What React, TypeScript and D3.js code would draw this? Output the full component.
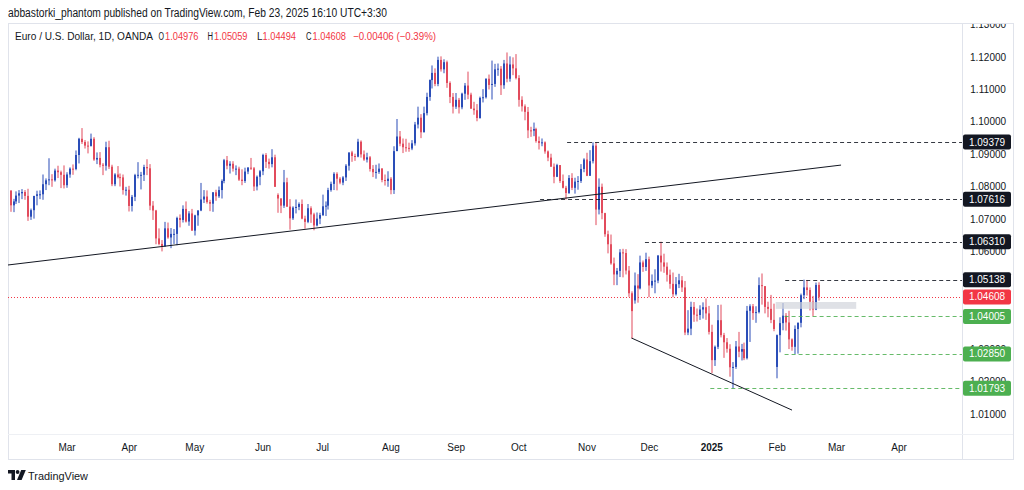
import React from 'react';
import * as d3 from 'd3';

// EUR/USD daily candles, [open, high, low, close]
const feb24 = [
  [1.0788, 1.079, 1.0723, 1.0743], [1.0743, 1.0763, 1.0722, 1.0755], [1.0755, 1.0786, 1.0747, 1.0773],
  [1.0773, 1.079, 1.075, 1.078], [1.078, 1.0793, 1.0762, 1.0784], [1.0784, 1.079, 1.076, 1.0772],
  [1.0772, 1.0794, 1.0695, 1.0708], [1.0708, 1.0733, 1.0698, 1.0728], [1.0728, 1.0772, 1.0702, 1.0772],
  [1.0772, 1.0788, 1.0743, 1.0777], [1.0777, 1.0789, 1.0762, 1.0777], [1.0777, 1.0838, 1.076, 1.0808],
  [1.0808, 1.0826, 1.079, 1.082], [1.082, 1.0888, 1.0805, 1.0823], [1.0823, 1.0839, 1.08, 1.082],
  [1.082, 1.0856, 1.0816, 1.085], [1.085, 1.0865, 1.0827, 1.0845], [1.0845, 1.085, 1.0796, 1.0837],
  [1.0837, 1.0866, 1.0795, 1.0805],
];
const mar24 = [
  [1.0805, 1.0845, 1.0797, 1.0838], [1.0838, 1.086, 1.0828, 1.0856], [1.0856, 1.0869, 1.0837, 1.0855],
  [1.0855, 1.0912, 1.0851, 1.0898], [1.0898, 1.0951, 1.0872, 1.0948], [1.0948, 1.0981, 1.0932, 1.0938],
  [1.0938, 1.0944, 1.0918, 1.0927], [1.0927, 1.094, 1.0903, 1.0926], [1.0926, 1.0964, 1.0924, 1.0948],
  [1.0948, 1.0953, 1.088, 1.0884], [1.0884, 1.0906, 1.087, 1.0889], [1.0889, 1.0907, 1.086, 1.0868],
  [1.0868, 1.0873, 1.0836, 1.0865], [1.0865, 1.0939, 1.085, 1.0922], [1.0922, 1.0942, 1.0855, 1.0862],
  [1.0862, 1.0868, 1.0802, 1.0808], [1.0808, 1.0842, 1.0802, 1.0838], [1.0838, 1.0864, 1.0826, 1.083],
  [1.083, 1.0841, 1.0801, 1.0829], [1.0829, 1.0838, 1.0776, 1.079], [1.079, 1.08, 1.0773, 1.0791],
];
const apr24 = [
  [1.0791, 1.0803, 1.0724, 1.0741], [1.0741, 1.0775, 1.0724, 1.0769], [1.0769, 1.084, 1.0756, 1.0836],
  [1.0836, 1.0876, 1.0826, 1.0837], [1.0837, 1.0846, 1.0792, 1.0837], [1.0837, 1.0868, 1.0818, 1.0861],
  [1.0861, 1.0885, 1.0836, 1.0857], [1.0857, 1.087, 1.0728, 1.0742], [1.0742, 1.0756, 1.0698, 1.0727],
  [1.0727, 1.0729, 1.0623, 1.0641], [1.0641, 1.0672, 1.062, 1.0624], [1.0624, 1.0636, 1.0601, 1.0617],
  [1.0617, 1.0692, 1.0615, 1.0672], [1.0672, 1.069, 1.064, 1.0644], [1.0644, 1.0673, 1.0611, 1.0655],
  [1.0655, 1.067, 1.0624, 1.0655], [1.0655, 1.0708, 1.062, 1.0704], [1.0704, 1.0715, 1.0675, 1.0698],
  [1.0698, 1.0743, 1.069, 1.0732], [1.0732, 1.0755, 1.069, 1.0693], [1.0693, 1.0725, 1.068, 1.0718],
  [1.0718, 1.0732, 1.0665, 1.0665],
];
const may24 = [
  [1.0665, 1.0714, 1.065, 1.0712], [1.0712, 1.0728, 1.068, 1.0727], [1.0727, 1.0812, 1.0725, 1.0761],
  [1.0761, 1.079, 1.075, 1.077], [1.077, 1.0789, 1.0748, 1.0753], [1.0753, 1.076, 1.0725, 1.0748],
  [1.0748, 1.0784, 1.0723, 1.0783], [1.0783, 1.0791, 1.0757, 1.0771], [1.0771, 1.0801, 1.0766, 1.079],
  [1.079, 1.0823, 1.0764, 1.0818], [1.0818, 1.0886, 1.0811, 1.0882], [1.0882, 1.0895, 1.0854, 1.0865],
  [1.0865, 1.0879, 1.0841, 1.0871], [1.0871, 1.0879, 1.0847, 1.0856], [1.0856, 1.0866, 1.0836, 1.0856],
  [1.0856, 1.0862, 1.0818, 1.0822], [1.0822, 1.0854, 1.0805, 1.0818], [1.0818, 1.0859, 1.0812, 1.0847],
  [1.0847, 1.0861, 1.0839, 1.0859], [1.0859, 1.0889, 1.0852, 1.0857], [1.0857, 1.0861, 1.0787, 1.0801],
  [1.0801, 1.0835, 1.0789, 1.0831], [1.0831, 1.0852, 1.0805, 1.0848],
];
const jun24 = [
  [1.0848, 1.0902, 1.0836, 1.0898], [1.0898, 1.0904, 1.0858, 1.0877], [1.0877, 1.0887, 1.0856, 1.087],
  [1.087, 1.0916, 1.086, 1.0891], [1.0891, 1.0899, 1.08, 1.08], [1.0775, 1.078, 1.072, 1.0764],
  [1.0764, 1.0765, 1.0719, 1.0742], [1.0742, 1.0852, 1.0735, 1.0814], [1.0814, 1.0828, 1.0738, 1.0739],
  [1.0739, 1.0762, 1.0668, 1.0703], [1.0703, 1.074, 1.0698, 1.0736], [1.0736, 1.0761, 1.0718, 1.0738],
  [1.0738, 1.0752, 1.0728, 1.0747], [1.0747, 1.0761, 1.07, 1.0702], [1.0702, 1.0711, 1.0671, 1.0692],
  [1.0692, 1.0747, 1.0688, 1.0734], [1.0734, 1.074, 1.0689, 1.0715], [1.0715, 1.072, 1.0666, 1.0681],
  [1.0681, 1.0721, 1.0678, 1.0702], [1.0702, 1.072, 1.0685, 1.0713],
];
const jul24 = [
  [1.0713, 1.0776, 1.071, 1.074], [1.074, 1.0755, 1.071, 1.0742], [1.0742, 1.0797, 1.073, 1.079],
  [1.079, 1.0816, 1.0785, 1.0809], [1.0809, 1.0845, 1.079, 1.084], [1.084, 1.0845, 1.0789, 1.0825],
  [1.0825, 1.083, 1.0808, 1.0813], [1.0813, 1.0833, 1.0805, 1.0829], [1.0829, 1.087, 1.0818, 1.0865],
  [1.0865, 1.0905, 1.085, 1.0906], [1.0906, 1.0911, 1.0877, 1.0895], [1.0895, 1.0902, 1.088, 1.0893],
  [1.0893, 1.0948, 1.0891, 1.0939], [1.0939, 1.0943, 1.089, 1.09], [1.09, 1.0912, 1.088, 1.0884],
  [1.0884, 1.0905, 1.0875, 1.0891], [1.0891, 1.0895, 1.0847, 1.0855], [1.0855, 1.0867, 1.083, 1.0845],
  [1.0845, 1.0868, 1.0825, 1.0846], [1.0846, 1.0872, 1.084, 1.0856], [1.0856, 1.0858, 1.0814, 1.0821],
  [1.0821, 1.0838, 1.0804, 1.0818], [1.0818, 1.0848, 1.08, 1.0825],
];
const aug24 = [
  [1.0825, 1.083, 1.0777, 1.079], [1.079, 1.0925, 1.0778, 1.091], [1.091, 1.1009, 1.091, 1.0955],
  [1.0955, 1.0972, 1.0925, 1.0933], [1.0933, 1.0949, 1.0904, 1.0922], [1.0922, 1.0948, 1.0908, 1.092],
  [1.092, 1.0936, 1.0908, 1.0918], [1.0918, 1.0944, 1.0913, 1.0934], [1.0934, 1.1, 1.0927, 1.0992],
  [1.0992, 1.1047, 1.098, 1.1013], [1.1013, 1.1024, 1.095, 1.0968], [1.0968, 1.1047, 1.0968, 1.1027],
  [1.1027, 1.109, 1.102, 1.1077], [1.1077, 1.1131, 1.1065, 1.1129], [1.1129, 1.1174, 1.1103, 1.1151],
  [1.1151, 1.1165, 1.111, 1.1117], [1.1117, 1.1201, 1.111, 1.1191], [1.1191, 1.1202, 1.1155, 1.1162],
  [1.1162, 1.1193, 1.115, 1.1184], [1.1184, 1.1189, 1.1105, 1.112], [1.112, 1.1125, 1.1058, 1.1077],
  [1.1077, 1.1089, 1.1026, 1.1047],
];
const sep24 = [
  [1.1047, 1.1089, 1.104, 1.1068], [1.1068, 1.1074, 1.1026, 1.1045], [1.1045, 1.109, 1.1039, 1.1087],
  [1.1087, 1.112, 1.1068, 1.1112], [1.1112, 1.1155, 1.107, 1.1084], [1.1084, 1.109, 1.104, 1.1041],
  [1.1041, 1.1062, 1.1022, 1.1036], [1.1036, 1.1055, 1.1002, 1.1012], [1.1012, 1.1078, 1.101, 1.1074],
  [1.1074, 1.1101, 1.106, 1.1076], [1.1076, 1.1134, 1.1072, 1.1133], [1.1133, 1.1146, 1.11, 1.1114],
  [1.1114, 1.1189, 1.1069, 1.1117], [1.1117, 1.1179, 1.1108, 1.1162], [1.1162, 1.118, 1.1142, 1.1164],
  [1.1164, 1.1172, 1.1083, 1.1113], [1.1113, 1.1191, 1.1102, 1.118], [1.118, 1.1214, 1.1122, 1.1133],
  [1.1133, 1.1202, 1.1124, 1.1177], [1.1177, 1.1199, 1.1144, 1.1165], [1.1165, 1.1209, 1.1131, 1.1135],
];
const oct24 = [
  [1.1135, 1.1144, 1.1047, 1.1068], [1.1068, 1.1079, 1.1032, 1.1048], [1.1048, 1.1054, 1.1005, 1.1031],
  [1.1031, 1.1046, 1.095, 1.0974], [1.0974, 1.0985, 1.0954, 1.0973], [1.0973, 1.0998, 1.0956, 1.0978],
  [1.0978, 1.0982, 1.0936, 1.0941], [1.0941, 1.0955, 1.0915, 1.0935], [1.0935, 1.0949, 1.0925, 1.0937],
  [1.0937, 1.094, 1.0902, 1.0909], [1.0909, 1.0912, 1.0879, 1.089], [1.089, 1.0902, 1.0862, 1.0862],
  [1.0862, 1.0872, 1.0811, 1.0831], [1.0831, 1.0871, 1.083, 1.0867], [1.0867, 1.0867, 1.0812, 1.0818],
  [1.0818, 1.0838, 1.0795, 1.0797], [1.0797, 1.0803, 1.0761, 1.0781], [1.0781, 1.0836, 1.0778, 1.0827],
  [1.0827, 1.0842, 1.079, 1.0797], [1.0797, 1.0828, 1.0779, 1.0816], [1.0816, 1.0833, 1.0791, 1.0818],
  [1.0818, 1.087, 1.0812, 1.0855], [1.0855, 1.0888, 1.0845, 1.0884],
];
const nov24 = [
  [1.0884, 1.0905, 1.0833, 1.0834], [1.0834, 1.0913, 1.0834, 1.0879], [1.0879, 1.0937, 1.0872, 1.0927],
  [1.0927, 1.0937, 1.0682, 1.073], [1.073, 1.0826, 1.0715, 1.08], [1.08, 1.081, 1.07, 1.0719],
  [1.0719, 1.072, 1.0646, 1.0654], [1.0654, 1.0665, 1.0595, 1.0623], [1.0623, 1.0653, 1.056, 1.0564],
  [1.0564, 1.0582, 1.0497, 1.053], [1.053, 1.055, 1.0497, 1.0541], [1.0541, 1.0608, 1.0522, 1.0598],
  [1.0598, 1.0609, 1.0521, 1.0596], [1.0596, 1.0608, 1.053, 1.0542], [1.0542, 1.0556, 1.0461, 1.0472],
  [1.0472, 1.0478, 1.0332, 1.0417], [1.045, 1.0536, 1.044, 1.0496], [1.0496, 1.0531, 1.0443, 1.0487],
  [1.0487, 1.0588, 1.0484, 1.0567], [1.0567, 1.0573, 1.0538, 1.0553], [1.0553, 1.0597, 1.0541, 1.0577],
];
const dec24 = [
  [1.0577, 1.0585, 1.046, 1.0496], [1.0496, 1.053, 1.0488, 1.051], [1.051, 1.0546, 1.0472, 1.0511],
  [1.0511, 1.059, 1.0503, 1.0588], [1.0588, 1.0631, 1.0539, 1.0567], [1.0567, 1.0594, 1.0535, 1.0554],
  [1.0554, 1.0567, 1.0508, 1.0529], [1.0529, 1.0545, 1.0486, 1.0501], [1.0501, 1.0536, 1.046, 1.0469],
  [1.0469, 1.0522, 1.0465, 1.05], [1.05, 1.0532, 1.0488, 1.0512], [1.0512, 1.0525, 1.0476, 1.049],
  [1.049, 1.051, 1.0343, 1.0351], [1.0351, 1.042, 1.0343, 1.0363], [1.0363, 1.0446, 1.0343, 1.043],
  [1.043, 1.0445, 1.0384, 1.0406], [1.0406, 1.0425, 1.0385, 1.0405], [1.0405, 1.0435, 1.039, 1.0422],
  [1.0422, 1.0444, 1.0394, 1.0429], [1.0429, 1.0456, 1.039, 1.041], [1.041, 1.0433, 1.0345, 1.0353],
];
const jan25 = [
  [1.0353, 1.0375, 1.0226, 1.0266], [1.0266, 1.0311, 1.0248, 1.0307], [1.0307, 1.0436, 1.03, 1.0389],
  [1.0389, 1.0437, 1.0336, 1.0343], [1.0343, 1.035, 1.0273, 1.0321], [1.0321, 1.0334, 1.0289, 1.0301],
  [1.0301, 1.0315, 1.0215, 1.0244], [1.0244, 1.026, 1.0179, 1.0245], [1.0245, 1.0325, 1.0239, 1.0308],
  [1.0308, 1.0353, 1.0275, 1.0292], [1.0292, 1.0316, 1.0265, 1.03], [1.03, 1.032, 1.0266, 1.0272],
  [1.0272, 1.0433, 1.0268, 1.0418], [1.0418, 1.0438, 1.0322, 1.0432], [1.0432, 1.0439, 1.039, 1.0411],
  [1.0411, 1.0432, 1.0381, 1.0414], [1.0414, 1.0521, 1.041, 1.0497], [1.0497, 1.0533, 1.0437, 1.0494],
  [1.0494, 1.0494, 1.041, 1.043], [1.043, 1.0446, 1.0398, 1.0424], [1.0424, 1.0467, 1.038, 1.039],
  [1.039, 1.044, 1.0355, 1.0362],
];
const feb25 = [
  [1.0245, 1.0345, 1.021, 1.0343], [1.0343, 1.0398, 1.029, 1.038], [1.038, 1.0442, 1.0358, 1.0403],
  [1.0403, 1.0411, 1.0357, 1.0382], [1.0382, 1.0418, 1.03, 1.033], [1.033, 1.0333, 1.0295, 1.0307],
  [1.0307, 1.0373, 1.0285, 1.0362], [1.0362, 1.0382, 1.0286, 1.0381], [1.0381, 1.0471, 1.0367, 1.0466],
  [1.0466, 1.0514, 1.0454, 1.049], [1.049, 1.0513, 1.0465, 1.0482], [1.0482, 1.049, 1.0419, 1.0446],
  [1.0446, 1.0464, 1.0401, 1.0422], [1.0422, 1.0505, 1.042, 1.04976], [1.04976, 1.05059, 1.04494, 1.04608],
];

// bar index 0 = Mar 1 2024; the first candle shown (Feb 5) sits 19 bars earlier
const firstBar = -19;

// month labels on the time axis and the bar where each month starts
const monthLabels = ['Mar', 'Apr', 'May', 'Jun', 'Jul', 'Aug', 'Sep', 'Oct', 'Nov', 'Dec', '2025', 'Feb', 'Mar', 'Apr'];
const monthBars = [0, 21, 43, 66, 86, 109, 131, 152, 175, 196, 217, 239, 259, 280];

// 1.05000 is hidden under the 1.05138 tag in the original
const priceTicks = [1.01, 1.02, 1.03, 1.04, 1.06, 1.07, 1.08, 1.09, 1.1, 1.11, 1.12, 1.13];

// horizontal levels drawn on the chart
const levelPrices = [1.09379, 1.07616, 1.0631, 1.05138, 1.04005, 1.0285, 1.01793];
const levelFrom = [168.3, 159.2, 194.5, 241.7, 241.5, 241.5, 216.5];
const levelKind = ['res', 'res', 'res', 'res', 'sup', 'sup', 'sup'];

// trend lines as [bar, price]
const upperTrend = [[-20, 1.0559], [260.5, 1.0867]];
const lowerTrend = [[190, 1.0334], [244, 1.0112]];

// grey zone
const zoneBars = [238.5, 265.6];
const zonePrices = [1.0445, 1.0424];

const UP = '#2a4db8';
const DOWN = '#e24b5c';
const INK = '#131722';
const GREEN = '#4caf50';
const RED = '#f23645';
const FONT = '"Liberation Sans", Arial, sans-serif';

const App = () => {
  const width = 1024;
  const height = 490;
  const paneL = 8;
  const paneR = 962;
  const paneT = 23;
  const paneB = 434;
  const frameR = 1013;
  const frameB = 459;

  const x = d3.scaleLinear().domain([0, 280]).range([67, 899]);
  const y = d3.scaleLinear().domain([1.01, 1.12]).range([414, 57]);

  const bars = [...feb24, ...mar24, ...apr24, ...may24, ...jun24, ...jul24, ...aug24, ...sep24, ...oct24, ...nov24, ...dec24, ...jan25, ...feb25]
    .map((b, i) => ({ i: i + firstBar, o: b[0], h: b[1], l: b[2], c: b[3] }));
  const last = bars[bars.length - 1];

  const line = d3.line<number[]>().x(d => x(d[0])).y(d => y(d[1]));
  const fmt = d3.format('.5f');

  const tags = [
    ...levelPrices.map((p, k) => ({ p, fill: levelKind[k] === 'res' ? INK : GREEN })),
    { p: last.c, fill: RED },
  ];

  // legend pieces: letter, value, letter x, value x
  const ohlc = [
    { k: 'O', v: last.o, lx: 158.5, vx: 165 },
    { k: 'H', v: last.h, lx: 207.5, vx: 214 },
    { k: 'L', v: last.l, lx: 257, vx: 262.5 },
    { k: 'C', v: last.c, lx: 306, vx: 312.5 },
  ];

  return (
    <div style={{ position: 'fixed', left: 0, top: 0, background: '#fff' }}>
      <svg width={width} height={height} style={{ display: 'block', fontFamily: FONT }}>
        <rect width={width} height={height} fill="#fff" />
        <defs>
          <clipPath id="pane">
            <rect x={paneL} y={paneT} width={paneR - paneL} height={paneB - paneT} />
          </clipPath>
          <clipPath id="axis">
            <rect x={paneR} y={paneT + 1} width={frameR - paneR} height={paneB - paneT} />
          </clipPath>
        </defs>

        <text x={8} y={17} fontSize={12} fill={INK} textLength={379} lengthAdjust="spacingAndGlyphs">
          abbastorki_phantom published on TradingView.com, Feb 23, 2025 16:10 UTC+3:30
        </text>

        <rect x={paneL + 0.5} y={paneT + 0.5} width={frameR - paneL} height={frameB - paneT} fill="none" stroke="#e0e3eb" />
        <line x1={paneR + 0.5} x2={paneR + 0.5} y1={paneT} y2={frameB} stroke="#e0e3eb" />
        <line x1={paneL} x2={frameR} y1={paneB + 0.5} y2={paneB + 0.5} stroke="#eef0f4" />

        <g clipPath="url(#pane)">
          <line x1={paneL} x2={paneR} y1={Math.round(y(last.c)) + 0.5} y2={Math.round(y(last.c)) + 0.5}
            stroke={RED} strokeDasharray="1 2" />
          {bars.map(b => {
            const cx = Math.round(x(b.i));
            const col = b.c >= b.o ? UP : DOWN;
            const top = y(Math.max(b.o, b.c));
            const bh = Math.max(1, y(Math.min(b.o, b.c)) - top);
            return (
              <g key={b.i}>
                <rect x={cx - 0.5} y={y(b.h)} width={1} height={y(b.l) - y(b.h)} fill={col} />
                <rect x={cx - 1} y={top} width={2} height={bh} fill={col} />
              </g>
            );
          })}
          <rect x={x(zoneBars[0])} y={y(zonePrices[0])} width={x(zoneBars[1]) - x(zoneBars[0])}
            height={y(zonePrices[1]) - y(zonePrices[0])} fill="#d1d4dc" opacity={0.7} />
          {levelPrices.map((p, k) => (
            <line key={p} x1={x(levelFrom[k])} x2={paneR} y1={Math.round(y(p)) + 0.5} y2={Math.round(y(p)) + 0.5}
              stroke={levelKind[k] === 'res' ? INK : GREEN} strokeOpacity={0.85} strokeDasharray="4 3" />
          ))}
          <path d={line(upperTrend) || ''} fill="none" stroke={INK} strokeWidth={1} />
          <path d={line(lowerTrend) || ''} fill="none" stroke={INK} strokeWidth={1} />
        </g>

        <g fontSize={10.5} fill={INK}>
          <text x={15} y={40} textLength={138} lengthAdjust="spacingAndGlyphs">Euro / U.S. Dollar, 1D, OANDA</text>
          {ohlc.map(d => (
            <g key={d.k}>
              <text x={d.lx} y={40} fontSize={10} textLength={5.5} lengthAdjust="spacingAndGlyphs">{d.k}</text>
              <text x={d.vx} y={40} fill={RED} textLength={33.5} lengthAdjust="spacingAndGlyphs">{fmt(d.v)}</text>
            </g>
          ))}
          <text x={353} y={40} fill={RED} textLength={83} lengthAdjust="spacingAndGlyphs">−0.00406 (−0.39%)</text>
        </g>

        <g fontSize={10} fill={INK} textAnchor="middle" clipPath="url(#axis)">
          {priceTicks.map(p => (
            <text key={p} x={988} y={y(p) + 3.5}>{fmt(p)}</text>
          ))}
        </g>

        {tags.map(t => (
          <g key={t.p}>
            <rect x={963} y={y(t.p) - 7.5} width={48} height={15} rx={2} fill={t.fill} />
            <text x={987} y={y(t.p) + 3.5} fontSize={10} fill="#fff" textAnchor="middle">{fmt(t.p)}</text>
          </g>
        ))}

        <g fontSize={10} fill={INK} textAnchor="middle">
          {monthLabels.map((m, k) => (
            <text key={k} x={x(monthBars[k])} y={451} fontWeight={m === '2025' ? 'bold' : 'normal'}>{m}</text>
          ))}
        </g>

        <g fill={INK}>
          <path d="M8 470 h7 v10 h-3.5 v-6.5 h-3.5 z" />
          <circle cx={17.6} cy={472} r={1.9} />
          <path d="M21.2 470 h4.6 l-4.2 10 h-4.6 z" />
          <text x={28} y={480} fontSize={11.5} textLength={60} lengthAdjust="spacingAndGlyphs">TradingView</text>
        </g>
      </svg>
    </div>
  );
};

export default App;
